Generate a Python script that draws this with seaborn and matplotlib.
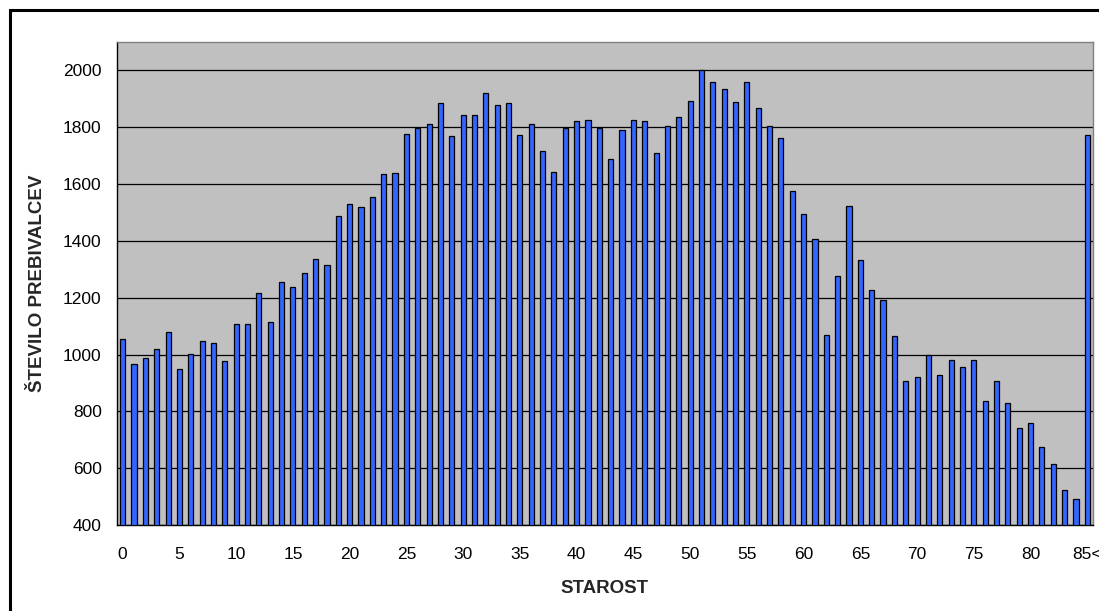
import matplotlib
matplotlib.use("Agg")
import matplotlib.pyplot as plt
import matplotlib.patches as mpatches
import seaborn as sns
import pandas as pd
import numpy as np

ages = list(range(86))
age_labels = [str(a) for a in range(85)] + ["85<"]
population = [
    1054, 968, 989, 1019, 1079, 949, 1002, 1048, 1042, 978,
    1108, 1107, 1217, 1116, 1256, 1236, 1286, 1337, 1314, 1486,
    1529, 1520, 1553, 1635, 1638, 1776, 1798, 1813, 1886, 1768,
    1844, 1843, 1921, 1877, 1884, 1772, 1811, 1717, 1641, 1798,
    1822, 1825, 1798, 1687, 1789, 1827, 1823, 1709, 1805, 1836,
    1891, 2002, 1959, 1935, 1888, 1960, 1867, 1806, 1761, 1574,
    1494, 1406, 1068, 1276, 1522, 1332, 1226, 1191, 1066, 908,
    922, 999, 927, 979, 956, 980, 837, 907, 828, 740,
    759, 676, 616, 522, 490, 1772,
]
tick_labels = ["0", "5", "10", "15", "20", "25", "30", "35", "40", "45",
               "50", "55", "60", "65", "70", "75", "80", "85<"]
y_ticks = [400, 600, 800, 1000, 1200, 1400, 1600, 1800, 2000]

df = pd.DataFrame({"starost": age_labels, "st": population})

sns.set_theme(style="white")
plt.rcParams["font.family"] = ["Liberation Sans", "DejaVu Sans"]

fig = plt.figure(figsize=(10.99, 6.11), dpi=100)
ax = fig.add_axes([117/1099, 1 - 525/611, (1093 - 117)/1099, (525 - 42)/611])

sns.barplot(data=df, x="starost", y="st", order=age_labels, ax=ax,
            color="#3366FF", saturation=1, width=0.45,
            edgecolor="black", linewidth=0.9, zorder=3)

ax.set_facecolor("#C0C0C0")
ax.set_xlim(-0.5, len(ages) - 0.5)
ax.set_ylim(400, 2100)
ax.set_yticks(y_ticks)
ax.set_yticklabels([str(v) for v in y_ticks], fontsize=12.5)
for v in y_ticks:
    ax.axhline(v, color="black", linewidth=0.9, zorder=1)

pos = [i for i, l in enumerate(age_labels) if l in tick_labels]
ax.set_xticks(pos)
ax.set_xticklabels(tick_labels, fontsize=12.5)
ax.set_xticks(np.arange(-0.5, len(ages), 1.0), minor=True)
ax.tick_params(axis="x", which="major", length=0, pad=16, colors="black")
ax.tick_params(axis="x", which="minor", length=4.3, width=0.8, color="black", direction="out")
ax.tick_params(axis="y", which="major", length=5, width=0.8, color="black", direction="out", pad=6)
ax.tick_params(axis="both", labelcolor="black")

for side in ["left", "bottom"]:
    ax.spines[side].set_color("black")
    ax.spines[side].set_linewidth(1.0)
for side in ["top", "right"]:
    ax.spines[side].set_color("#808080")
    ax.spines[side].set_linewidth(1.0)
    ax.spines[side].set_visible(True)

ax.set_xlabel("STAROST", fontsize=13.5, fontweight="bold", labelpad=13)
ax.set_ylabel("ŠTEVILO PREBIVALCEV", fontsize=13.5, fontweight="bold", labelpad=12)

# outer chart frame
frame = mpatches.Rectangle((10/1099, -0.05), 1.2, 1 - 10/611 + 0.05,
                           transform=fig.transFigure, fill=False,
                           edgecolor="black", linewidth=2.2)
fig.patches.append(frame)

fig.savefig("out.png", dpi=100, facecolor="white")
